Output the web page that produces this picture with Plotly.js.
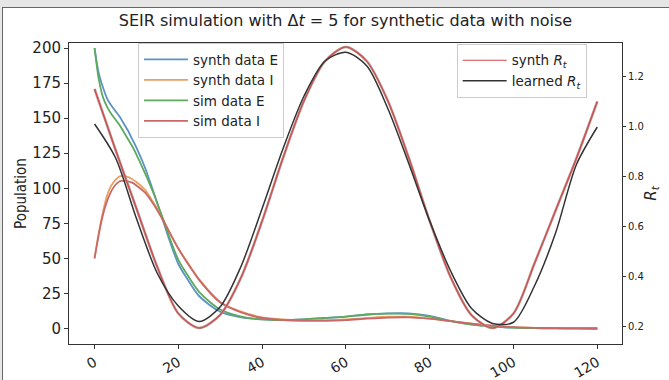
<!DOCTYPE html>
<html>
<head>
<meta charset="utf-8">
<script src="https://cdn.plot.ly/plotly-3.0.1.min.js"></script>
<style>
html,body{margin:0;padding:0;background:#e6e6e6;width:669px;height:380px;overflow:hidden;}
#frame{position:absolute;left:2px;top:7px;width:667px;height:373px;background:#fff;border-left:1px solid #666;border-top:1px solid #666;}
#chart{position:absolute;left:0;top:0;width:666px;height:372px;}
</style>
</head>
<body>
<div id="frame"><div id="chart"></div></div>
<script>
// time points for compartments
const tEI = [0,1,2,3,4,5,6,7,8,9,10,12,14,16,18,20,22,25,30,35,40,45,50,55,60,65,70,75,80,85,90,95,100,105,110,115,120];
const synthE = [200,182,172,164,159,155,151,146,141,135,129,115,98,80,62,46,36,23,12,8,6.5,6,6.5,7.5,8.5,10,10.8,10.8,9,5.5,3,1.5,0.6,0.3,0.1,0.05,0];
const synthI = [50,68,83,95,102,106,108.5,108.8,108,106.5,104.5,99,90,80,68,57,48,35,19,12,8,6.5,6,6,6.5,7.5,8.4,8.4,7,5.2,3.5,2,1,0.5,0.2,0.1,0];
const simE   = [200,178,165,158,153,149,145,140,135,130,124,111,97,81,64,49,39,26,13.5,8.5,6.5,6,6.5,7.5,8.5,10,10.6,10.4,8.5,5.2,2.8,1.4,0.6,0.3,0.1,0.05,0];
const simI   = [50,67,81,91,98,102.5,105,105.5,105,104,102,97,89,79,68,57,47.5,34.5,18.5,11.5,7.5,6,5.5,5.5,6,7,7.8,8,7,5.2,3.5,2,1,0.5,0.2,0.1,0];
// time points for reproduction number
const tR = [0,5,10,15,20,25,30,35,40,45,50,55,60,65,70,75,80,85,90,95,100,105,110,115,120];
const rtSynth   = [1.148,0.905,0.67,0.435,0.25,0.192,0.245,0.395,0.62,0.873,1.101,1.259,1.316,1.259,1.101,0.873,0.62,0.395,0.243,0.192,0.25,0.45,0.66,0.87,1.098];
const rtLearned = [1.008,0.873,0.63,0.41,0.28,0.218,0.277,0.44,0.67,0.91,1.12,1.26,1.295,1.24,1.07,0.85,0.62,0.42,0.27,0.21,0.215,0.36,0.57,0.845,0.996];
const xTicks = [0,20,40,60,80,100,120];
const yTicks = [0,25,50,75,100,125,150,175,200];
const y2Ticks = [0.2,0.4,0.6,0.8,1.0,1.2];

const F = 'DejaVu Sans, sans-serif';
const ln = (c,w)=>({color:c,width:w,shape:'spline',smoothing:0.8});

const traces = [
  {x:tEI,y:synthE,name:'synth data E',mode:'lines',line:ln('#5b93c4',1.8),legend:'legend'},
  {x:tEI,y:synthI,name:'synth data I',mode:'lines',line:ln('#eba062',1.8),legend:'legend'},
  {x:tEI,y:simE,name:'sim data E',mode:'lines',line:ln('#5fa95f',1.8),legend:'legend'},
  {x:tEI,y:simI,name:'sim data I',mode:'lines',line:ln('#c86868',1.8),legend:'legend'},
  {x:tR,y:rtSynth,name:'under',mode:'lines',line:ln('#b89590',2.5),yaxis:'y2',showlegend:false,hoverinfo:'skip'},
  {x:tR,y:rtSynth,name:'synth <i>R</i><sub><i>t</i></sub>',mode:'lines',line:ln('#d24848',1.1),yaxis:'y2',legend:'legend2'},
  {x:tR,y:rtLearned,name:'learned <i>R</i><sub><i>t</i></sub>',mode:'lines',line:ln('#333333',1.5),yaxis:'y2',legend:'legend2'}
];

const layout = {
  width:666,height:372,
  margin:{l:66,r:47,t:35,b:36,pad:0},
  paper_bgcolor:'#ffffff',plot_bgcolor:'#ffffff',
  font:{family:F,color:'#222'},
  showlegend:true,
  title:{text:'SEIR simulation with Δ<i>t</i> = 5 for synthetic data with noise',font:{family:F,size:16,color:'#222'},x:0.5,xref:'paper',xanchor:'center',y:0.966,yanchor:'middle'},
  xaxis:{range:[-6.1,125.9],tickvals:xTicks,ticktext:xTicks.map(String),tickangle:-30,tickfont:{size:14},
         ticks:'outside',ticklen:4,tickcolor:'#333',showline:true,linecolor:'#333',linewidth:1,mirror:true,
         showgrid:false,zeroline:false},
  yaxis:{range:[-11.05,203.6],tickvals:yTicks,ticktext:yTicks.map(String),tickfont:{size:15},
         ticks:'outside',ticklen:4,tickcolor:'#333',showline:true,linecolor:'#333',linewidth:1,
         showgrid:false,zeroline:false,title:{text:'Population',font:{size:15,family:'DejaVu Sans Condensed, DejaVu Sans, sans-serif'},standoff:2}},
  yaxis2:{overlaying:'y',side:'right',range:[0.128,1.332],tickvals:y2Ticks,ticktext:y2Ticks.map(v=>v.toFixed(1)),
          tickfont:{size:10},ticks:'outside',ticklen:3,tickcolor:'#333',showline:true,linecolor:'#333',linewidth:1,
          showgrid:false,zeroline:false,title:{text:'<i>R</i><sub><i>t</i></sub>',font:{size:15},standoff:2}},
  legend:{x:0.1248,y:1.0,xanchor:'left',yanchor:'top',font:{size:13.5,family:F},bordercolor:'#cccccc',borderwidth:1,
          bgcolor:'rgba(255,255,255,0.85)',tracegroupgap:0,itemwidth:44},
  legend2:{x:0.701,y:0.997,xanchor:'left',yanchor:'top',font:{size:13.5,family:F},bordercolor:'#cccccc',borderwidth:1,
          bgcolor:'rgba(255,255,255,0.85)',itemwidth:44}
};
Plotly.newPlot('chart',traces,layout,{displayModeBar:false,staticPlot:true});
</script>
</body>
</html>
